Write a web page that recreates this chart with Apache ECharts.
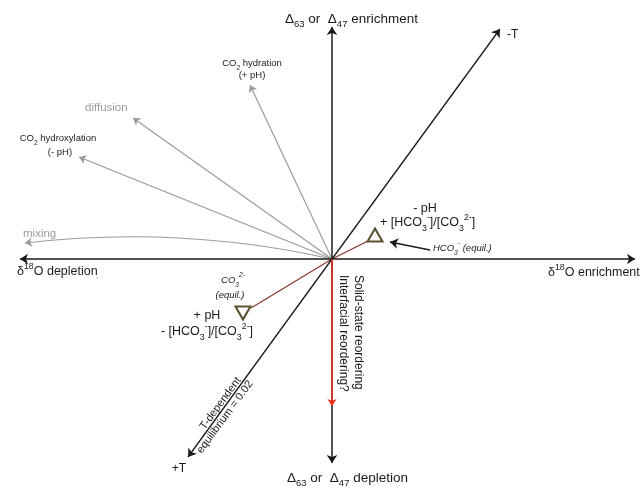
<!DOCTYPE html>
<html><head><meta charset="utf-8">
<script src="https://cdn.jsdelivr.net/npm/echarts@6/dist/echarts.min.js"></script>
<style>html,body{margin:0;padding:0;background:#fff}#c{width:641px;height:488px}</style>
</head><body><div id="c"></div>
<script>
// Schematic vectors, all measured from the common origin (centre of the cross)
const axisTips = [[-312, 0], [303, 0], [0, 232], [0, -204]];      // δ18O depletion/enrichment, Δ enrichment/depletion
const tempTips = [[168, 230], [-144, -198]];                       // -T, +T (T-dependent equilibrium)
const reorderTip = [0, -147];                                      // solid-state / interfacial reordering
const kineticNames = ['CO2 hydration', 'diffusion', 'CO2 hydroxylation', 'mixing'];
const kineticTips = [[-82, 174], [-199, 141], [-253, 102], [-307, 16]];
const mixingCurveness = -0.085;
const equilNames = ['HCO3- (equil.)', 'CO3 2- (equil.)'];
const equilPoints = [[43, 24], [-89, -54]];                        // triangle markers
const equilLineEnds = [[36, 18], [-81, -49]];
const hco3Pointer = [[98, 9], [58, 17]];                           // tail, head

const FONT = 'Liberation Sans, Arial, Helvetica, sans-serif';
const BLACK = '#1a1a1a', GRAY = '#9b9b9b', BROWN = '#8b3a2e', RED = '#e8321e', OLIVE = '#5b5433';

function rich(size, color, italic) {
  const fs = italic ? 'italic' : 'normal';
  const s = Math.round(size * 0.7 * 10) / 10;
  return {
    m:   {fontSize: size, lineHeight: size + 7, fontFamily: FONT, color: color, fontStyle: fs},
    sub: {fontSize: s, lineHeight: s + 1, fontFamily: FONT, color: color, fontStyle: fs, verticalAlign: 'bottom'},
    sup: {fontSize: s, lineHeight: s + 4, fontFamily: FONT, color: color, fontStyle: fs, verticalAlign: 'top'}
  };
}
function txt(x, y, text, size, opts) {
  opts = opts || {};
  const color = opts.color || BLACK;
  return {
    type: 'text', x: x, y: y, rotation: opts.rotation || 0, z: 100,
    style: {
      text: text, rich: rich(size, color, opts.italic),
      fontSize: size, fontFamily: FONT, fill: color,
      align: opts.align || 'left', verticalAlign: 'middle'
    }
  };
}

const seg = (tip, extra) => Object.assign({coords: [[0, 0], tip]}, extra || {});

const option = {
  animation: false,
  grid: {left: 0, right: 0, top: 0, bottom: 0},
  xAxis: {type: 'value', min: -332, max: 309, show: false},
  yAxis: {type: 'value', min: -229, max: 259, show: false},
  series: [
    { // kinetic (gray) vectors
      type: 'lines', coordinateSystem: 'cartesian2d', z: 2,
      symbol: ['none', 'arrow'], symbolSize: 7,
      lineStyle: {color: GRAY, width: 1.2, opacity: 1},
      data: kineticTips.map((t, i) => seg(t, {name: kineticNames[i],
        lineStyle: {color: GRAY, width: 1.2, opacity: 1, curveness: kineticNames[i] === 'mixing' ? mixingCurveness : 0}}))
    },
    { // equilibrium (brown) lines to triangles
      type: 'lines', coordinateSystem: 'cartesian2d', z: 3,
      symbol: ['none', 'none'],
      lineStyle: {color: BROWN, width: 1.3, opacity: 1},
      data: equilLineEnds.map((t, i) => seg(t, {name: equilNames[i]}))
    },
    { // axes
      type: 'lines', coordinateSystem: 'cartesian2d', z: 4,
      symbol: ['none', 'arrow'], symbolSize: 8,
      lineStyle: {color: BLACK, width: 1.5, opacity: 1},
      data: axisTips.map(t => seg(t))
    },
    { // temperature line
      type: 'lines', coordinateSystem: 'cartesian2d', z: 4,
      symbol: ['none', 'arrow'], symbolSize: 8,
      lineStyle: {color: BLACK, width: 1.3, opacity: 1},
      data: tempTips.map(t => seg(t))
    },
    { // reordering (red)
      type: 'lines', coordinateSystem: 'cartesian2d', z: 5,
      symbol: ['none', 'arrow'], symbolSize: 7,
      lineStyle: {color: RED, width: 1.6, opacity: 1},
      data: [seg(reorderTip)]
    },
    { // HCO3- pointer
      type: 'lines', coordinateSystem: 'cartesian2d', z: 5,
      symbol: ['none', 'arrow'], symbolSize: 8,
      lineStyle: {color: BLACK, width: 1.3, opacity: 1},
      data: [{coords: hco3Pointer}]
    },
    { // equilibrium triangles
      type: 'scatter', z: 6,
      symbol: 'triangle', symbolSize: [15, 13],
      itemStyle: {color: 'rgba(255,255,255,0)', borderColor: OLIVE, borderWidth: 2, opacity: 1},
      data: equilPoints.map((p, i) => ({name: equilNames[i], value: p, symbolRotate: i === 0 ? 0 : 180}))
    }
  ],
  graphic: [
    txt(285, 19, '{m|Δ}{sub|63}{m| or  Δ}{sub|47}{m| enrichment}', 13.5),
    txt(287, 478, '{m|Δ}{sub|63}{m| or  Δ}{sub|47}{m| depletion}', 13.5),
    txt(17, 272, '{m|δ}{sup|18}{m|O depletion}', 12.5),
    txt(96, 276, '{m|.}', 8),
    txt(548, 273, '{m|δ}{sup|18}{m|O enrichment}', 12.5),
    txt(507, 35, '{m|-T}', 12),
    txt(179, 469, '{m|+T}', 12, {align: 'center'}),
    txt(252, 63, '{m|CO}{sub|2}{m| hydration}', 9.5, {align: 'center'}),
    txt(252, 75, '{m|(+ pH)}', 9.5, {align: 'center'}),
    txt(85, 108, '{m|diffusion}', 11.5, {color: GRAY}),
    txt(58, 138, '{m|CO}{sub|2}{m| hydroxylation}', 9.5, {align: 'center'}),
    txt(60, 152, '{m|(- pH)}', 9.5, {align: 'center'}),
    txt(23, 234, '{m|mixing}', 11.5, {color: GRAY}),
    txt(425, 209, '{m|- pH}', 12.5, {align: 'center'}),
    txt(380, 223, '{m|+ [HCO}{sub|3}{sup|-}{m|]/[CO}{sub|3}{sup|2-}{m|]}', 12.5),
    txt(433, 248, '{m|HCO}{sub|3}{sup|-}{m| (equil.)}', 9.5, {italic: true}),
    txt(233, 280, '{m|CO}{sub|3}{sup|2-}', 9.5, {italic: true, align: 'center'}),
    txt(230, 295, '{m|(equil.)}', 9.5, {italic: true, align: 'center'}),
    txt(207, 316, '{m|+ pH}', 12.5, {align: 'center'}),
    txt(253, 332, '{m|- [HCO}{sub|3}{sup|-}{m|]/[CO}{sub|3}{sup|2-}{m|]}', 12.5, {align: 'right'}),
    txt(358, 275, '{m|Solid-state reordering}', 12, {rotation: -Math.PI / 2}),
    txt(343, 275, '{m|Interfacial reordering?}', 12, {rotation: -Math.PI / 2}),
    txt(220.5, 403.5, '{m|T-dependent}', 11, {align: 'center', rotation: 0.937}),
    txt(225, 417, '{m|equilibrium = 0.02}', 11, {align: 'center', rotation: 0.937})
  ]
};
const chart = echarts.init(document.getElementById('c'), null, {renderer: 'canvas'});
chart.setOption(option);
</script></body></html>
